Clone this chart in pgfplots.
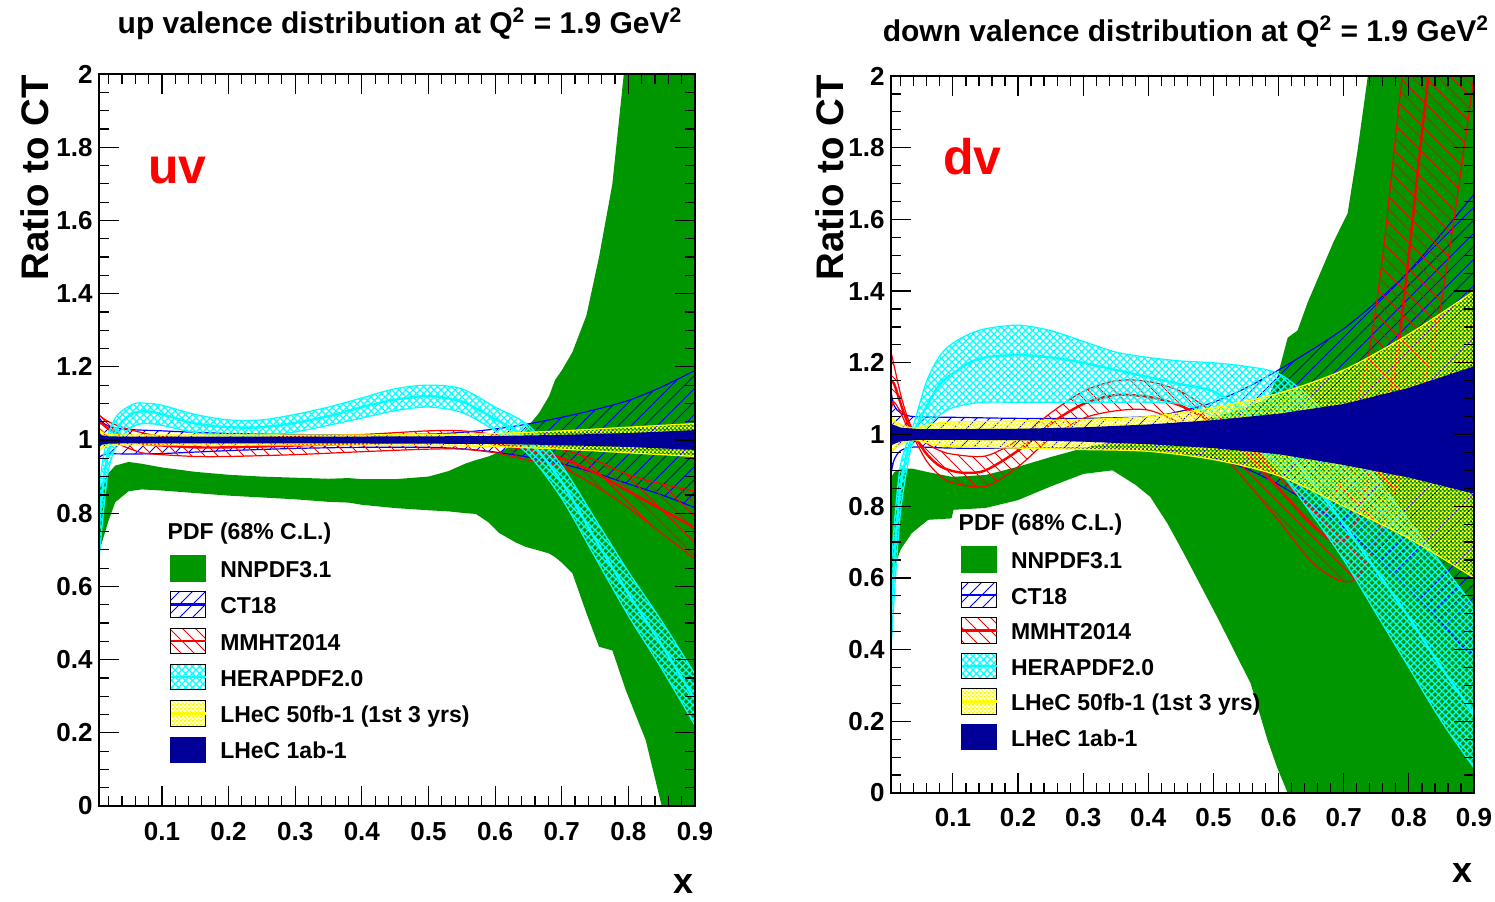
\documentclass[border=0pt]{standalone}
\usepackage{fontspec}
\setmainfont{Liberation Sans}
\usepackage{pgfplots}
\pgfplotsset{compat=1.18}
\usepackage{pgfplotstable}
\usepgfplotslibrary{fillbetween}
\usetikzlibrary{patterns}

\definecolor{nngreen}{RGB}{0,150,0}
\definecolor{lhecnavy}{RGB}{0,0,153}
\definecolor{ctblue}{RGB}{0,0,255}
\definecolor{mmred}{RGB}{255,0,0}
\definecolor{hcyan}{RGB}{0,255,255}
\definecolor{lyellow}{RGB}{255,255,0}

% hatch styles of the error bands
\pgfdeclarepatternformonly{ctlines}{\pgfqpoint{-1pt}{-1pt}}{\pgfqpoint{7.5pt}{7.5pt}}{\pgfqpoint{6.5pt}{6.5pt}}{%
  \pgfsetlinewidth{0.5pt}%
  \pgfpathmoveto{\pgfqpoint{0pt}{0pt}}%
  \pgfpathlineto{\pgfqpoint{6.6pt}{6.6pt}}%
  \pgfusepath{stroke}}
\pgfdeclarepatternformonly{mmlines}{\pgfqpoint{-1pt}{-1pt}}{\pgfqpoint{7.5pt}{7.5pt}}{\pgfqpoint{6.5pt}{6.5pt}}{%
  \pgfsetlinewidth{0.5pt}%
  \pgfpathmoveto{\pgfqpoint{0pt}{6.5pt}}%
  \pgfpathlineto{\pgfqpoint{6.6pt}{-0.1pt}}%
  \pgfusepath{stroke}}
\pgfdeclarepatternformonly{heracross}{\pgfqpoint{-1pt}{-1pt}}{\pgfqpoint{4.5pt}{4.5pt}}{\pgfqpoint{3.5pt}{3.5pt}}{%
  \pgfsetlinewidth{0.55pt}%
  \pgfpathmoveto{\pgfqpoint{0pt}{0pt}}%
  \pgfpathlineto{\pgfqpoint{3.6pt}{3.6pt}}%
  \pgfpathmoveto{\pgfqpoint{0pt}{3.5pt}}%
  \pgfpathlineto{\pgfqpoint{3.6pt}{-0.1pt}}%
  \pgfusepath{stroke}}
\pgfdeclarepatternformonly{lhecdots}{\pgfpointorigin}{\pgfqpoint{2pt}{2pt}}{\pgfqpoint{2pt}{2pt}}{%
  \pgfpathrectangle{\pgfpointorigin}{\pgfqpoint{1.2pt}{1.2pt}}%
  \pgfpathrectangle{\pgfqpoint{1pt}{1pt}}{\pgfqpoint{1.2pt}{1.2pt}}%
  \pgfusepath{fill}}

\tikzset{fill between/on layer=main}

\newcommand\tickfont{\bfseries\fontsize{13}{13}\selectfont}
\newcommand\legfont{\bfseries\fontsize{11.5}{13}\selectfont}
\newcommand\titlefont{\bfseries\fontsize{15}{17}\selectfont}
\newcommand\ylabfont{\bfseries\fontsize{19.2}{22}\selectfont}
\newcommand\ls{\rule[-2.5pt]{0pt}{13.24pt}}

% ---------------- up valence ----------------
\pgfplotstableread{
x lo hi
0.005 0.69 0.86
0.01 0.72 0.88
0.02 0.78 0.91
0.03 0.83 0.93
0.05 0.86 0.94
0.07 0.865 0.935
0.10 0.862 0.925
0.15 0.855 0.913
0.20 0.848 0.905
0.25 0.843 0.90
0.30 0.838 0.897
0.35 0.831 0.894
0.38 0.829 0.896
0.40 0.823 0.893
0.45 0.814 0.893
0.50 0.808 0.90
0.53 0.805 0.915
0.556 0.80 0.936
0.571 0.798 0.945
0.59 0.775 0.955
0.606 0.746 0.967
0.631 0.72 0.99
0.646 0.708 1.03
0.666 0.698 1.074
0.681 0.69 1.12
0.69 0.68 1.164
0.70 0.665 1.19
0.716 0.636 1.24
0.737 0.527 1.34
0.756 0.435 1.50
0.776 0.425 1.70
0.796 0.317 2.05
0.826 0.18 2.5
0.85 0.0 3.0
0.90 -0.5 4.0
}\uvNN

\pgfplotstableread{
x lo hi
0.005 0.95 1.065
0.01 0.958 1.05
0.02 0.962 1.038
0.04 0.962 1.03
0.07 0.962 1.027
0.10 0.963 1.025
0.15 0.967 1.021
0.20 0.971 1.018
0.30 0.977 1.015
0.40 0.98 1.014
0.50 0.98 1.016
0.55 0.976 1.021
0.60 0.967 1.03
0.65 0.953 1.044
0.70 0.935 1.062
0.75 0.91 1.083
0.80 0.88 1.108
0.85 0.85 1.145
0.90 0.815 1.19
}\uvCT

\pgfplotstableread{
x lo c hi
0.005 1.03 1.05 1.07
0.01 1.025 1.045 1.062
0.02 1.005 1.03 1.05
0.04 0.985 1.01 1.035
0.07 0.965 0.99 1.02
0.10 0.96 0.985 1.01
0.15 0.955 0.98 1.005
0.20 0.955 0.98 1.005
0.30 0.96 0.985 1.01
0.40 0.968 0.99 1.015
0.50 0.975 1.0 1.025
0.55 0.975 1.0 1.025
0.60 0.965 0.99 1.015
0.65 0.945 0.972 1.0
0.70 0.925 0.95 0.975
0.75 0.875 0.91 0.945
0.80 0.815 0.86 0.905
0.85 0.745 0.81 0.88
0.90 0.675 0.76 0.86
}\uvMM

\pgfplotstableread{
x lo c hi
0.005 0.66 0.75 0.85
0.01 0.76 0.85 0.93
0.015 0.85 0.92 0.98
0.02 0.92 0.97 1.02
0.03 0.98 1.02 1.06
0.04 1.01 1.05 1.08
0.06 1.04 1.075 1.10
0.08 1.045 1.078 1.10
0.10 1.04 1.07 1.095
0.15 1.02 1.045 1.07
0.20 1.012 1.035 1.055
0.25 1.012 1.035 1.055
0.30 1.022 1.047 1.07
0.35 1.04 1.065 1.09
0.40 1.06 1.09 1.115
0.45 1.08 1.11 1.14
0.50 1.09 1.12 1.15
0.55 1.075 1.105 1.14
0.60 1.025 1.057 1.09
0.65 0.96 1.0 1.04
0.70 0.84 0.885 0.93
0.75 0.68 0.73 0.785
0.80 0.52 0.58 0.64
0.85 0.375 0.44 0.505
0.90 0.22 0.29 0.36
}\uvHE

\pgfplotstableread{
x lo hi
0.005 0.97 1.03
0.01 0.978 1.022
0.02 0.985 1.015
0.05 0.986 1.014
0.20 0.986 1.014
0.40 0.986 1.014
0.50 0.985 1.015
0.60 0.982 1.018
0.70 0.975 1.025
0.80 0.965 1.035
0.90 0.955 1.045
}\uvLA

\pgfplotstableread{
x lo hi
0.005 0.978 1.022
0.01 0.987 1.013
0.02 0.99 1.01
0.05 0.991 1.009
0.30 0.991 1.009
0.50 0.99 1.01
0.60 0.989 1.011
0.70 0.986 1.014
0.80 0.981 1.019
0.90 0.973 1.027
}\uvLB

% ---------------- down valence ----------------
\pgfplotstableread{
x lo hi
0.005 0.58 0.88
0.01 0.63 0.895
0.02 0.68 0.905
0.037 0.725 0.905
0.062 0.762 0.895
0.098 0.766 0.882
0.101 0.79 0.882
0.15 0.795 0.887
0.20 0.817 0.91
0.25 0.855 0.937
0.30 0.89 0.962
0.345 0.90 0.98
0.38 0.86 0.99
0.403 0.826 1.0
0.43 0.75 1.01
0.454 0.67 1.025
0.506 0.49 1.05
0.557 0.306 1.08
0.583 0.148 1.10
0.598 0.07 1.16
0.614 0.0 1.27
0.629 -0.1 1.29
0.645 -0.2 1.37
0.685 -0.3 1.54
0.706 -0.4 1.617
0.721 -0.5 1.79
0.737 -0.6 2.0
0.80 -1 3
0.90 -1 4
}\dvNN

\pgfplotstableread{
x lo hi
0.005 0.89 1.12
0.01 0.93 1.08
0.02 0.955 1.06
0.04 0.965 1.05
0.10 0.962 1.048
0.20 0.962 1.045
0.30 0.962 1.045
0.40 0.96 1.05
0.45 0.952 1.065
0.50 0.935 1.09
0.55 0.905 1.13
0.60 0.86 1.18
0.65 0.805 1.235
0.70 0.74 1.295
0.75 0.66 1.37
0.80 0.57 1.455
0.85 0.475 1.56
0.90 0.37 1.67
}\dvCT

\pgfplotstableread{
x hi
0.005 1.23
0.01 1.19
0.02 1.11
0.03 1.05
0.04 1.01
0.06 0.975
0.08 0.955
0.10 0.945
0.15 0.94
0.20 0.985
0.25 1.06
0.30 1.12
0.35 1.15
0.40 1.148
0.45 1.12
0.50 1.06
0.55 0.98
0.60 0.90
0.65 0.80
0.67 0.78
0.70 0.90
0.72 1.09
0.737 1.21
0.76 1.5
0.79 2.0
0.82 2.4
0.90 3.5
}\dvMMhi

\pgfplotstableread{
x c
0.005 1.15
0.01 1.14
0.02 1.085
0.03 1.035
0.04 1.0
0.06 0.945
0.08 0.912
0.10 0.898
0.12 0.893
0.15 0.90
0.20 0.955
0.25 1.03
0.30 1.085
0.35 1.11
0.40 1.105
0.45 1.08
0.50 1.03
0.55 0.95
0.60 0.85
0.65 0.75
0.69 0.70
0.72 0.76
0.75 0.98
0.783 1.236
0.83 2.0
0.90 3.0
}\dvMMc

\pgfplotstableread{
x lo
0.005 1.07
0.01 1.09
0.02 1.06
0.03 1.02
0.04 0.99
0.06 0.925
0.08 0.885
0.10 0.865
0.15 0.855
0.20 0.91
0.25 0.99
0.30 1.045
0.35 1.066
0.40 1.068
0.45 1.03
0.50 0.97
0.55 0.87
0.60 0.76
0.66 0.63
0.72 0.60
0.78 0.85
0.845 1.32
0.90 2.0
}\dvMMlo

\pgfplotstableread{
x lo c hi
0.005 0.40 0.50 0.62
0.01 0.55 0.65 0.75
0.015 0.68 0.77 0.85
0.02 0.79 0.86 0.92
0.03 0.91 0.95 0.98
0.04 0.985 1.005 1.03
0.06 1.02 1.08 1.15
0.08 1.055 1.14 1.22
0.10 1.075 1.17 1.255
0.125 1.085 1.20 1.28
0.15 1.09 1.215 1.295
0.20 1.09 1.222 1.305
0.25 1.09 1.215 1.29
0.30 1.09 1.20 1.26
0.35 1.09 1.18 1.23
0.40 1.09 1.16 1.215
0.45 1.085 1.14 1.205
0.50 1.05 1.12 1.20
0.55 0.99 1.06 1.19
0.60 0.90 0.98 1.17
0.65 0.78 0.87 1.10
0.70 0.65 0.75 1.00
0.75 0.50 0.62 0.88
0.80 0.35 0.49 0.76
0.85 0.20 0.35 0.64
0.90 0.07 0.22 0.52
}\dvHE

\pgfplotstableread{
x lo hi
0.005 0.95 1.05
0.01 0.96 1.04
0.02 0.972 1.028
0.04 0.985 1.018
0.07 0.972 1.03
0.10 0.966 1.035
0.20 0.962 1.038
0.30 0.958 1.042
0.40 0.953 1.05
0.50 0.93 1.075
0.60 0.885 1.115
0.70 0.80 1.18
0.80 0.71 1.28
0.90 0.60 1.40
}\dvLA

\pgfplotstableread{
x lo hi
0.005 0.97 1.03
0.02 0.981 1.019
0.05 0.985 1.015
0.10 0.985 1.015
0.20 0.984 1.016
0.30 0.98 1.02
0.40 0.973 1.028
0.50 0.962 1.04
0.60 0.945 1.058
0.70 0.915 1.085
0.80 0.88 1.13
0.90 0.835 1.19
}\dvLB

\pgfplotsset{
  ratioaxis/.style={
    scale only axis,
    clip mode=individual,
    xmin=0.005, xmax=0.9, ymin=0, ymax=2,
    axis on top,
    tick align=inside,
    xtick pos=both, ytick pos=both,
    xtick={0.1,0.2,0.3,0.4,0.5,0.6,0.7,0.8,0.9},
    ytick={0,0.2,0.4,0.6,0.8,1,1.2,1.4,1.6,1.8,2},
    minor xtick={0.02,0.04,0.06,0.08,0.12,0.14,0.16,0.18,0.22,0.24,0.26,0.28,0.32,0.34,0.36,0.38,0.42,0.44,0.46,0.48,0.52,0.54,0.56,0.58,0.62,0.64,0.66,0.68,0.72,0.74,0.76,0.78,0.82,0.84,0.86,0.88},
    minor ytick={0.05,0.1,0.15,0.25,0.3,0.35,0.45,0.5,0.55,0.65,0.7,0.75,0.85,0.9,0.95,1.05,1.1,1.15,1.25,1.3,1.35,1.45,1.5,1.55,1.65,1.7,1.75,1.85,1.9,1.95},
    major tick length=10pt, minor tick length=5pt,
    tick style={black, line width=0.6pt},
    axis line style={line width=1pt},
    tick label style={font=\tickfont, inner sep=0pt},
    /pgf/number format/assume math mode=true,
    /pgf/number format/fixed,
    legend cell align=left,
  },
}

% error band with hatched fill and drawn edges
\newcommand{\hatchband}[4]{%
  \addplot[#3, line width=0.6pt, smooth, forget plot, name path=#4L] table[x=x,y=lo]{#1};
  \addplot[#3, line width=0.6pt, smooth, forget plot, name path=#4U] table[x=x,y=hi]{#1};
  \addplot[pattern=#2, pattern color=#3, draw=none, forget plot] fill between[of=#4L and #4U];
}
% solid band
\newcommand{\solidband}[4]{%
  \addplot[draw=none, #3, forget plot, name path=#4L] table[x=x,y=lo]{#1};
  \addplot[draw=none, #3, forget plot, name path=#4U] table[x=x,y=hi]{#1};
  \addplot[fill=#2, draw=none, forget plot] fill between[of=#4L and #4U];
}

% legend swatches: 17.5pt wide box, then a gap before the text
\newcommand{\pdflegend}{%
  \addlegendimage{legend image code/.code={\fill[nngreen] (0pt,-6.375pt) rectangle (17.5pt,6.375pt); \path (24.5pt,0pt);}}
  \addlegendentry{\ls NNPDF3.1}
  \addlegendimage{legend image code/.code={\fill[pattern=ctlines, pattern color=ctblue] (0pt,-6.375pt) rectangle (17.5pt,6.375pt); \draw[ctblue, line width=1.2pt] (0pt,0pt) -- (17.5pt,0pt); \path (24.5pt,0pt);}}
  \addlegendentry{\ls CT18}
  \addlegendimage{legend image code/.code={\fill[pattern=mmlines, pattern color=mmred] (0pt,-6.375pt) rectangle (17.5pt,6.375pt); \draw[mmred, line width=1.2pt] (0pt,0pt) -- (17.5pt,0pt); \path (24.5pt,0pt);}}
  \addlegendentry{\ls MMHT2014}
  \addlegendimage{legend image code/.code={\fill[pattern=heracross, pattern color=hcyan] (0pt,-6.375pt) rectangle (17.5pt,6.375pt); \draw[hcyan, line width=1.2pt] (0pt,0pt) -- (17.5pt,0pt); \path (24.5pt,0pt);}}
  \addlegendentry{\ls HERAPDF2.0}
  \addlegendimage{legend image code/.code={\fill[pattern=lhecdots, pattern color=lyellow] (0pt,-6.375pt) rectangle (17.5pt,6.375pt); \draw[lyellow, line width=1.2pt] (0pt,0pt) -- (17.5pt,0pt); \path (24.5pt,0pt);}}
  \addlegendentry{\ls LHeC 50fb-1 (1st 3 yrs)}
  \addlegendimage{legend image code/.code={\fill[lhecnavy] (0pt,-6.375pt) rectangle (17.5pt,6.375pt); \path (24.5pt,0pt);}}
  \addlegendentry{\ls LHeC 1ab-1}
}

\begin{document}
\begin{tikzpicture}

% ===== up valence =====
\begin{axis}[ratioaxis,
  width=298.2pt, height=366pt, at={(49.3pt,47.5pt)}, anchor=south west,
  xticklabel shift=8pt, yticklabel shift=2.8pt,
  legend style={at={(axis description cs:0.1185,0.3434)}, anchor=north west,
    draw=none, fill=none, inner sep=0pt, row sep=5.0pt, font=\legfont,
    nodes={inner sep=0pt}},
]
\solidband{\uvNN}{nngreen}{nngreen}{unn}
\hatchband{\uvCT}{ctlines}{ctblue}{uct}
\hatchband{\uvMM}{mmlines}{mmred}{umm}
\addplot[mmred, line width=1.2pt, smooth, forget plot] table[x=x,y=c]{\uvMM};
\hatchband{\uvHE}{heracross}{hcyan}{uhe}
\addplot[hcyan, line width=1.2pt, smooth, forget plot] table[x=x,y=c]{\uvHE};
\hatchband{\uvLA}{lhecdots}{lyellow}{ula}
\solidband{\uvLB}{lhecnavy}{lhecnavy}{ulb}
\pdflegend
\node[font=\legfont, inner sep=0pt, anchor=base west] at (axis description cs:0.1152,0.3634) {PDF (68\% C.L.)};
\node[font=\bfseries\fontsize{25}{28}\selectfont, text=mmred, inner sep=0pt, anchor=base west] at (axis description cs:0.0828,0.851) {uv};
\node[font=\titlefont, inner sep=0pt, anchor=base] at (axis description cs:0.5054,1.056) {up valence distribution at Q\textsuperscript{2} = 1.9 GeV\textsuperscript{2}};
\node[font=\ylabfont, rotate=90, inner sep=0pt, anchor=base east] at (axis description cs:-0.0848,0.9986) {Ratio to CT};
\node[font=\bfseries\fontsize{18}{20}\selectfont, inner sep=0pt, anchor=base] at (axis description cs:0.98,-0.1195) {x};
\end{axis}

% ===== down valence =====
\begin{axis}[ratioaxis,
  width=291.5pt, height=358.5pt, at={(445.5pt,54pt)}, anchor=south west,
  xticklabel shift=7.5pt, yticklabel shift=3pt,
  legend style={at={(axis description cs:0.1184,0.3445)}, anchor=north west,
    draw=none, fill=none, inner sep=0pt, row sep=4.6pt, font=\legfont,
    nodes={inner sep=0pt}},
]
\solidband{\dvNN}{nngreen}{nngreen}{dnn}
\hatchband{\dvCT}{ctlines}{ctblue}{dct}
\addplot[mmred, line width=0.6pt, smooth, forget plot, name path=dmmL] table[x=x,y=lo]{\dvMMlo};
\addplot[mmred, line width=0.6pt, smooth, forget plot, name path=dmmU] table[x=x,y=hi]{\dvMMhi};
\addplot[pattern=mmlines, pattern color=mmred, draw=none, forget plot] fill between[of=dmmL and dmmU];
\addplot[mmred, line width=1.2pt, smooth, forget plot] table[x=x,y=c]{\dvMMc};
\hatchband{\dvHE}{heracross}{hcyan}{dhe}
\addplot[hcyan, line width=1.2pt, smooth, forget plot] table[x=x,y=c]{\dvHE};
\hatchband{\dvLA}{lhecdots}{lyellow}{dla}
\solidband{\dvLB}{lhecnavy}{lhecnavy}{dlb}
\pdflegend
\node[font=\legfont, inner sep=0pt, anchor=base west] at (axis description cs:0.1154,0.3658) {PDF (68\% C.L.)};
\node[font=\bfseries\fontsize{25}{28}\selectfont, text=mmred, inner sep=0pt, anchor=base west] at (axis description cs:0.0892,0.862) {dv};
\node[font=\titlefont, inner sep=0pt, anchor=base] at (axis description cs:0.506,1.0488) {down valence distribution at Q\textsuperscript{2} = 1.9 GeV\textsuperscript{2}};
\node[font=\ylabfont, rotate=90, inner sep=0pt, anchor=base east] at (axis description cs:-0.0823,1.0014) {Ratio to CT};
\node[font=\bfseries\fontsize{18}{20}\selectfont, inner sep=0pt, anchor=base] at (axis description cs:0.981,-0.1255) {x};
\end{axis}

\pgfresetboundingbox
\path[use as bounding box] (0,0) rectangle (747.5pt,450.5pt);
\end{tikzpicture}
\end{document}
